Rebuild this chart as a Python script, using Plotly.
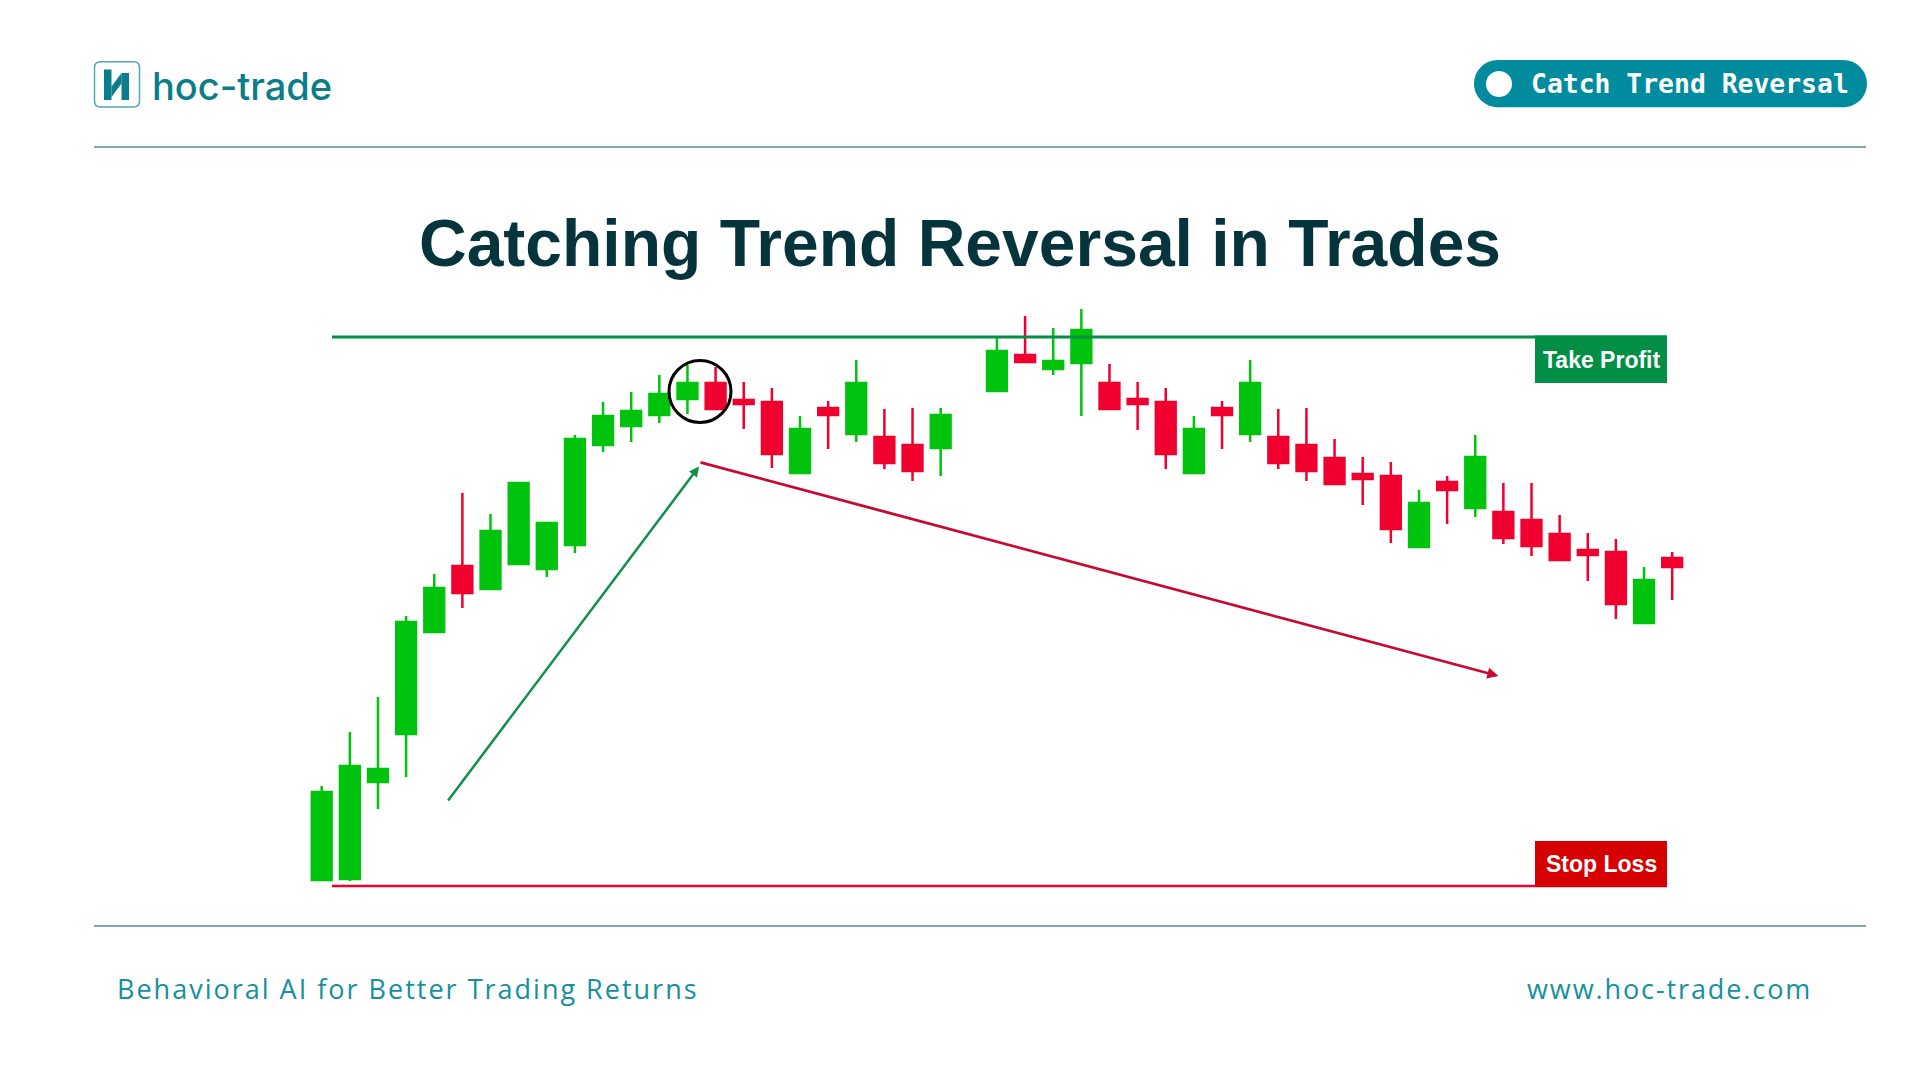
import plotly.graph_objects as go

W, H = 1920, 1080

# ---------------- data ----------------
candle_index = list(range(0, 23)) + list(range(24, 49))
open_ = [120, 121, 218, 266, 368, 434, 411, 436, 431, 455, 555, 574, 585, 601, 617, 600, 598, 527, 592, 566, 563, 555, 552,
         609, 645, 631, 637, 617, 601, 598, 527, 592, 566, 563, 555, 542, 526, 524, 453, 518, 492, 488, 480, 466, 450, 448, 377, 442]
high = [214, 268, 303, 384, 426, 507, 486, 517, 477, 565, 598, 608, 625, 635, 633, 618, 612, 584, 599, 640, 591, 592, 592,
        663, 684, 672, 691, 636, 618, 612, 584, 599, 640, 591, 592, 561, 543, 538, 510, 524, 565, 517, 517, 485, 467, 461, 433, 448]
low = [120, 119, 191, 223, 368, 392, 411, 436, 423, 447, 548, 558, 577, 586, 591, 571, 532, 527, 551, 558, 531, 519, 524,
       609, 638, 625, 584, 591, 570, 531, 527, 551, 558, 531, 519, 516, 495, 457, 453, 476, 483, 456, 444, 440, 419, 381, 377, 400]
close = [208, 234, 231, 378, 412, 407, 469, 517, 477, 561, 584, 589, 606, 617, 591, 596, 546, 571, 585, 617, 537, 529, 585,
         649, 638, 639, 670, 591, 596, 546, 571, 585, 617, 537, 529, 516, 521, 471, 497, 510, 543, 462, 454, 440, 445, 396, 420, 433]

take_profit_level = 663
stop_loss_level = 114

title_text = "Catching Trend Reversal in Trades"
brand_text = "hoc-trade"
badge_text = "Catch Trend Reversal"
tp_label = "Take Profit"
sl_label = "Stop Loss"
footer_left = "Behavioral AI for Better Trading Returns"
footer_right = "www.hoc-trade.com"

# ---------------- styling ----------------
GREEN = "#00C30E"
RED = "#F0002E"
TP_GREEN = "#008F45"
SL_LINE = "#EE0034"
SL_BOX = "#D60000"
TEAL = "#008C9E"
BRAND = "#0B7D8A"
TITLE_C = "#06343D"
RULE = "#5B8A90"

X0_PX, STEP_PX = 321.7, 28.135


def dx(px):
    return (px - X0_PX) / STEP_PX


def dy(py):
    return 1000 - py


def qx(px):
    return px / W


def qy(py):
    return 1 - py / H


def ppath(points, close_path=True):
    s = "M " + " L ".join(f"{qx(x):.5f},{qy(y):.5f}" for x, y in points)
    return s + (" Z" if close_path else "")


fig = go.Figure()
fig.add_trace(go.Candlestick(
    x=candle_index, open=open_, high=high, low=low, close=close,
    increasing=dict(line=dict(color=GREEN, width=2.5), fillcolor=GREEN),
    decreasing=dict(line=dict(color=RED, width=2.5), fillcolor=RED),
    whiskerwidth=0, hoverinfo="skip", showlegend=False,
))

shapes = []
# header / footer rules
shapes.append(dict(type="line", xref="paper", yref="paper", x0=qx(94), x1=qx(1866), y0=qy(147), y1=qy(147),
                   line=dict(color=RULE, width=1.5)))
shapes.append(dict(type="line", xref="paper", yref="paper", x0=qx(94), x1=qx(1866), y0=qy(926), y1=qy(926),
                   line=dict(color=RULE, width=1.5)))
# take profit / stop loss
shapes.append(dict(type="line", xref="x", yref="y", x0=dx(332), x1=dx(1667), y0=take_profit_level, y1=take_profit_level,
                   line=dict(color=TP_GREEN, width=3)))
shapes.append(dict(type="line", xref="x", yref="y", x0=dx(332), x1=dx(1667), y0=stop_loss_level, y1=stop_loss_level,
                   line=dict(color=SL_LINE, width=2.5)))
shapes.append(dict(type="rect", xref="x", yref="y", x0=dx(1535), x1=dx(1667), y0=take_profit_level + 1.5,
                   y1=take_profit_level - 46, fillcolor=TP_GREEN, line=dict(width=0)))
shapes.append(dict(type="rect", xref="x", yref="y", x0=dx(1535), x1=dx(1667), y0=stop_loss_level - 1,
                   y1=stop_loss_level + 45, fillcolor=SL_BOX, line=dict(width=0)))
# reversal circle
shapes.append(dict(type="circle", xref="x", yref="y", x0=dx(669), x1=dx(731), y0=dy(422.5), y1=dy(360.5),
                   line=dict(color="#000000", width=3)))
# badge pill
shapes.append(dict(type="rect", xref="paper", yref="paper", x0=qx(1497.6), x1=qx(1843.4), y0=qy(107.3), y1=qy(60),
                   fillcolor=TEAL, line=dict(width=0)))
shapes.append(dict(type="circle", xref="paper", yref="paper", x0=qx(1474), x1=qx(1521.3), y0=qy(107.3), y1=qy(60),
                   fillcolor=TEAL, line=dict(width=0)))
shapes.append(dict(type="circle", xref="paper", yref="paper", x0=qx(1819.7), x1=qx(1867), y0=qy(107.3), y1=qy(60),
                   fillcolor=TEAL, line=dict(width=0)))
shapes.append(dict(type="circle", xref="paper", yref="paper", x0=qx(1486), x1=qx(1512), y0=qy(97), y1=qy(71),
                   fillcolor="#FFFFFF", line=dict(width=0)))
# logo icon: rounded square outline
r = 6
x0, x1, y0, y1 = 94.5, 139.5, 61.7, 107
icon_outline = (f"M {qx(x0 + r)},{qy(y0)} L {qx(x1 - r)},{qy(y0)} Q {qx(x1)},{qy(y0)} {qx(x1)},{qy(y0 + r)} "
                f"L {qx(x1)},{qy(y1 - r)} Q {qx(x1)},{qy(y1)} {qx(x1 - r)},{qy(y1)} "
                f"L {qx(x0 + r)},{qy(y1)} Q {qx(x0)},{qy(y1)} {qx(x0)},{qy(y1 - r)} "
                f"L {qx(x0)},{qy(y0 + r)} Q {qx(x0)},{qy(y0)} {qx(x0 + r)},{qy(y0)} Z")
shapes.append(dict(type="path", xref="paper", yref="paper", path=icon_outline,
                   line=dict(color="#4FA8B2", width=1.5)))
shapes.append(dict(type="path", xref="paper", yref="paper",
                   path=ppath([(104, 69.5), (111.5, 69.5), (111.5, 100), (104, 100)]),
                   fillcolor=BRAND, line=dict(width=0)))
shapes.append(dict(type="path", xref="paper", yref="paper",
                   path=ppath([(121.5, 73), (129, 73), (129, 100), (121.5, 100)]),
                   fillcolor=BRAND, line=dict(width=0)))
shapes.append(dict(type="path", xref="paper", yref="paper",
                   path=ppath([(111.5, 86.5), (121.5, 73), (121.5, 83.5), (111.5, 97)]),
                   fillcolor=BRAND, line=dict(width=0)))

annotations = []
# arrows
annotations.append(dict(xref="x", yref="y", axref="x", ayref="y", x=dx(699), y=dy(466.5), ax=dx(447), ay=dy(802),
                        text="", showarrow=True, arrowhead=2, arrowsize=0.8, arrowwidth=2.5,
                        arrowcolor="#0E8F4E", standoff=0))
annotations.append(dict(xref="x", yref="y", axref="x", ayref="y", x=dx(1498.5), y=dy(676), ax=dx(699), ay=dy(462),
                        text="", showarrow=True, arrowhead=2, arrowsize=0.8, arrowwidth=2.8,
                        arrowcolor="#C80A32", standoff=0))
# labels
annotations.append(dict(xref="x", yref="y", x=dx(1601), y=take_profit_level - 22.5, text=f"<b>{tp_label}</b>",
                        showarrow=False, xanchor="center", yanchor="middle",
                        font=dict(family="Liberation Sans, Arial", size=23, color="#FFFFFF")))
annotations.append(dict(xref="x", yref="y", x=dx(1601), y=stop_loss_level + 22, text=f"<b>{sl_label}</b>",
                        showarrow=False, xanchor="center", yanchor="middle",
                        font=dict(family="Liberation Sans, Arial", size=23, color="#FFFFFF")))
# title
annotations.append(dict(xref="paper", yref="paper", x=0.5, y=qy(243), text=f"<b>{title_text}</b>",
                        showarrow=False, xanchor="center", yanchor="middle",
                        font=dict(family="Liberation Sans, Arial", size=66, color=TITLE_C)))
# brand
annotations.append(dict(xref="paper", yref="paper", x=qx(150), y=qy(86), text=brand_text,
                        showarrow=False, xanchor="left", yanchor="middle",
                        font=dict(family="Inter", size=38, weight=500, color=BRAND)))
# badge text
annotations.append(dict(xref="paper", yref="paper", x=qx(1529), y=qy(83.5), text=f"<b>{badge_text}</b>",
                        showarrow=False, xanchor="left", yanchor="middle",
                        font=dict(family="DejaVu Sans Mono", size=26.4, color="#FFFFFF")))
# footer
annotations.append(dict(xref="paper", yref="paper", x=qx(115), y=qy(988),
                        text=f'<span style="letter-spacing:2.0px">{footer_left}</span>',
                        showarrow=False, xanchor="left", yanchor="middle",
                        font=dict(family="Open Sans", size=27, color="#14909E")))
annotations.append(dict(xref="paper", yref="paper", x=qx(1814), y=qy(988),
                        text=f'<span style="letter-spacing:1.9px">{footer_right}</span>',
                        showarrow=False, xanchor="right", yanchor="middle",
                        font=dict(family="Open Sans", size=27, color="#14909E")))

fig.update_layout(
    width=W, height=H,
    margin=dict(l=0, r=0, t=0, b=0),
    paper_bgcolor="#FFFFFF", plot_bgcolor="#FFFFFF",
    showlegend=False, hovermode=False, dragmode=False,
    boxgap=0.296, boxgroupgap=0,
    xaxis=dict(range=[dx(0), dx(W)], visible=False, rangeslider=dict(visible=False), fixedrange=True),
    yaxis=dict(range=[dy(H), dy(0)], visible=False, fixedrange=True),
    shapes=shapes, annotations=annotations,
)

fig.write_html("out.html")
